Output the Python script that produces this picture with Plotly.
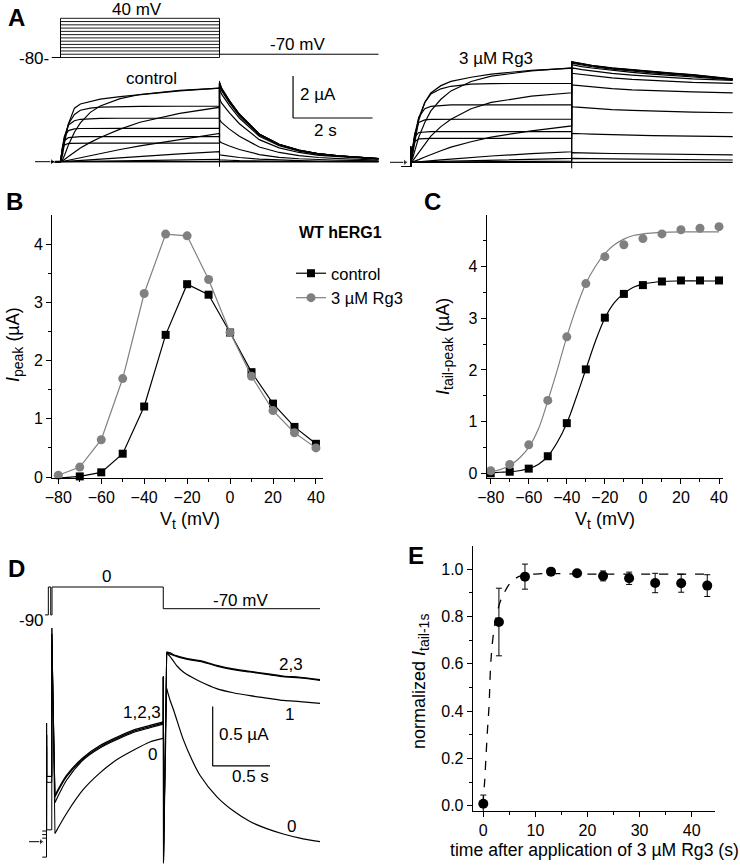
import plotly.graph_objects as go

# ======================= DATA =======================
VOLTAGES = [-80, -70, -60, -50, -40, -30, -20, -10, 0, 10, 20, 30, 40]

# Panel B: peak current (uA)
B_CTRL = [-0.02, 0.01, 0.08, 0.40, 1.21, 2.44, 3.31, 3.13, 2.48, 1.80, 1.26, 0.86, 0.57]
B_RG3 = [0.03, 0.17, 0.64, 1.69, 3.15, 4.17, 4.14, 3.39, 2.48, 1.73, 1.14, 0.76, 0.50]

# Panel C: tail peak current (uA) + fitted curves
C_CTRL = [0.0, 0.03, 0.09, 0.33, 0.97, 2.01, 3.01, 3.47, 3.64, 3.71, 3.73, 3.73, 3.73]
C_RG3 = [0.05, 0.17, 0.55, 1.41, 2.64, 3.67, 4.19, 4.42, 4.54, 4.63, 4.71, 4.74, 4.77]
C_FIT_V = [-80, -75, -70, -65, -60, -55, -50, -45, -40, -35, -30, -25, -20, -15, -10, -5, 0, 10, 20, 30, 40]
C_FIT_CTRL = [0.01, 0.02, 0.03, 0.05, 0.09, 0.17, 0.33, 0.60, 0.97, 1.47, 2.01, 2.55, 3.00, 3.30, 3.48, 3.60, 3.66, 3.71, 3.72, 3.72, 3.72]
C_FIT_RG3 = [0.03, 0.07, 0.15, 0.29, 0.50, 0.85, 1.40, 2.00, 2.64, 3.20, 3.67, 4.00, 4.25, 4.42, 4.53, 4.60, 4.63, 4.66, 4.67, 4.67, 4.67]

# Panel E
E_T = [0, 3, 8, 13, 18, 23, 28, 33, 38, 43]
E_Y = [0.008, 0.777, 0.969, 0.990, 0.983, 0.972, 0.962, 0.942, 0.941, 0.931]
E_ERR = [0.037, 0.143, 0.053, 0.006, 0.005, 0.021, 0.026, 0.041, 0.038, 0.046]
E_FIT_T = [-0.1, 0.25, 0.5, 0.8, 1.1, 1.4, 1.8, 2.4, 3.2, 4.0, 5.1, 6.9, 10, 20, 30, 44]
E_FIT_Y = [0.0, 0.10, 0.20, 0.32, 0.42, 0.59, 0.70, 0.79, 0.86, 0.90, 0.94, 0.97, 0.98, 0.98, 0.98, 0.98]

# Panel A: current traces (s, uA)
A_T_PRE = -0.22
A_T_STEP = [0, 0.05, 0.1, 0.2, 0.35, 0.5, 0.75, 1.0, 1.5, 2.0, 3.0, 4.0]
A_T_TAIL = [4.0, 4.05, 4.25, 4.5, 5.0, 5.5, 6.0, 6.5, 7.0, 8.0]
A_PRE_CTRL, A_ONSET_CTRL = 0.0, 0.0
A_PRE_RG3, A_ONSET_RG3 = -0.2, 0.74
CTRL_STEP = [
    [0, 0, 0, 0, 0, 0, 0, 0, 0, 0, 0, 0],
    [0, 0, 0, 0, 0, 0, 0, 0.01, 0.01, 0.01, 0.02, 0.02],
    [0, 0, 0, 0, 0.01, 0.01, 0.02, 0.03, 0.04, 0.06, 0.09, 0.11],
    [0, 0, 0.01, 0.02, 0.04, 0.06, 0.09, 0.12, 0.18, 0.25, 0.37, 0.48],
    [0, 0.01, 0.03, 0.07, 0.13, 0.2, 0.3, 0.4, 0.58, 0.75, 1.06, 1.35],
    [0, 0.04, 0.1, 0.25, 0.45, 0.65, 0.92, 1.15, 1.55, 1.88, 2.3, 2.59],
    [0, 0.1, 0.3, 0.8, 1.4, 1.85, 2.35, 2.65, 3.0, 3.2, 3.4, 3.5],
    [0, 0.3, 0.9, 1.8, 2.55, 2.75, 2.88, 2.98, 3.1, 3.2, 3.37, 3.5],
    [0, 0.5, 1.1, 1.8, 2.25, 2.45, 2.55, 2.6, 2.62, 2.63, 2.64, 2.65],
    [0, 0.6, 1.2, 1.75, 1.95, 2.02, 2.05, 2.06, 2.07, 2.07, 2.07, 2.07],
    [0, 0.7, 1.2, 1.48, 1.56, 1.58, 1.59, 1.59, 1.59, 1.59, 1.59, 1.59],
    [0, 0.7, 1.0, 1.15, 1.18, 1.19, 1.19, 1.19, 1.19, 1.19, 1.19, 1.19],
    [0, 0.6, 0.8, 0.87, 0.88, 0.88, 0.88, 0.88, 0.88, 0.88, 0.88, 0.88],
]
CTRL_TAIL = [
    [0, 0, 0, 0, 0, 0, 0, 0, 0, 0],
    [0.03, 0.03, 0.02, 0.02, 0.01, 0.01, 0.0, 0.0, 0.0, 0.0],
    [0.09, 0.08, 0.07, 0.05, 0.03, 0.02, 0.01, 0.01, 0.01, 0.0],
    [0.33, 0.31, 0.25, 0.2, 0.12, 0.07, 0.05, 0.03, 0.02, 0.01],
    [0.97, 0.9, 0.75, 0.58, 0.34, 0.21, 0.14, 0.1, 0.07, 0.04],
    [2.01, 1.87, 1.55, 1.21, 0.7, 0.44, 0.29, 0.2, 0.15, 0.08],
    [3.01, 2.8, 2.32, 1.81, 1.05, 0.66, 0.44, 0.3, 0.23, 0.12],
    [3.47, 3.23, 2.67, 2.08, 1.21, 0.76, 0.5, 0.35, 0.26, 0.14],
    [3.64, 3.39, 2.8, 2.18, 1.27, 0.8, 0.53, 0.36, 0.27, 0.15],
    [3.71, 3.45, 2.86, 2.23, 1.3, 0.82, 0.54, 0.37, 0.28, 0.15],
    [3.73, 3.47, 2.87, 2.24, 1.31, 0.82, 0.54, 0.37, 0.28, 0.15],
    [3.76, 3.5, 2.9, 2.26, 1.32, 0.83, 0.55, 0.38, 0.28, 0.15],
    [3.78, 3.52, 2.91, 2.27, 1.32, 0.83, 0.55, 0.38, 0.28, 0.15],
]
RG3_STEP = [
    [0, 0, 0, 0, 0, 0, 0, 0, 0, 0, 0, 0],
    [0, 0, 0, 0, 0, 0.01, 0.01, 0.01, 0.02, 0.03, 0.04, 0.05],
    [0, 0, 0, 0.01, 0.02, 0.03, 0.04, 0.05, 0.08, 0.11, 0.15, 0.19],
    [0, 0, 0.01, 0.03, 0.05, 0.08, 0.12, 0.15, 0.23, 0.3, 0.41, 0.5],
    [0, 0.02, 0.05, 0.13, 0.25, 0.37, 0.55, 0.72, 0.98, 1.2, 1.5, 1.73],
    [0, 0.07, 0.2, 0.5, 0.9, 1.25, 1.7, 2.05, 2.55, 2.85, 3.15, 3.31],
    [0, 0.2, 0.55, 1.2, 1.9, 2.45, 3.0, 3.4, 3.85, 4.1, 4.35, 4.5],
    [0, 0.4, 1.0, 2.0, 2.85, 3.3, 3.65, 3.85, 4.05, 4.2, 4.38, 4.5],
    [0, 0.5, 1.15, 2.1, 2.85, 3.25, 3.5, 3.62, 3.72, 3.75, 3.76, 3.76],
    [0, 0.6, 1.3, 2.15, 2.55, 2.66, 2.71, 2.73, 2.73, 2.73, 2.73, 2.73],
    [0, 0.7, 1.35, 1.9, 2.02, 2.04, 2.05, 2.05, 2.05, 2.05, 2.05, 2.05],
    [0, 0.7, 1.2, 1.42, 1.45, 1.46, 1.46, 1.46, 1.46, 1.46, 1.46, 1.46],
    [0, 0.65, 0.98, 1.12, 1.14, 1.14, 1.14, 1.14, 1.14, 1.14, 1.14, 1.14],
]
RG3_TAIL = [
    [0, 0, 0, 0, 0, 0, 0, 0, 0, 0],
    [0.19, 0.19, 0.18, 0.17, 0.16, 0.15, 0.14, 0.13, 0.12, 0.11],
    [0.46, 0.46, 0.45, 0.44, 0.42, 0.41, 0.39, 0.38, 0.37, 0.35],
    [1.38, 1.38, 1.36, 1.34, 1.31, 1.29, 1.27, 1.26, 1.24, 1.22],
    [2.65, 2.64, 2.61, 2.57, 2.51, 2.47, 2.44, 2.41, 2.39, 2.36],
    [3.68, 3.67, 3.63, 3.58, 3.51, 3.45, 3.41, 3.38, 3.35, 3.31],
    [4.24, 4.23, 4.17, 4.11, 4.02, 3.95, 3.9, 3.85, 3.81, 3.76],
    [4.5, 4.48, 4.41, 4.34, 4.23, 4.15, 4.08, 4.02, 3.97, 3.9],
    [4.65, 4.63, 4.56, 4.49, 4.37, 4.28, 4.2, 4.14, 4.08, 3.93],
    [4.72, 4.7, 4.63, 4.55, 4.44, 4.34, 4.26, 4.19, 4.12, 3.94],
    [4.76, 4.74, 4.66, 4.59, 4.47, 4.38, 4.29, 4.22, 4.15, 3.95],
    [4.78, 4.76, 4.68, 4.61, 4.49, 4.4, 4.31, 4.24, 4.17, 3.96],
    [4.79, 4.77, 4.69, 4.62, 4.5, 4.41, 4.32, 4.25, 4.18, 3.97],
]
CTRL_END_SPIKE = [-0.24, 3.85]
RG3_END_SPIKE = [-0.29, 4.79]
A_HOLD_MV, A_TAIL_MV = -80, -70
A_SCALE_DT, A_SCALE_DI = 2, 2

# Panel D: traces 0..3 (s, uA)
D_T_PRE = [-0.085, -0.048, -0.047, -0.046, -0.002, -0.001]
D0_PRE = [0.03, 0.03, 1.0, 0.1, 0.1, 1.8]
D1_PRE = [0.06, 0.06, 0.9, 0.5, 0.5, 1.75]
D2_PRE = [0.09, 0.09, 0.9, 0.55, 0.55, 1.7]
D3_PRE = [-0.13, -0.13, 0.8, 0.55, 0.55, 1.65]
D_T_STEP = [0.026, 0.128, 0.273, 0.418, 0.564, 0.709, 0.854, 0.97]
D0_STEP = [0.07, 0.24, 0.44, 0.58, 0.69, 0.77, 0.84, 0.87]
D1_STEP = [0.33, 0.52, 0.69, 0.79, 0.86, 0.92, 0.96, 0.99]
D2_STEP = [0.38, 0.55, 0.70, 0.80, 0.87, 0.93, 0.97, 1.0]
D3_STEP = [0.39, 0.56, 0.71, 0.81, 0.88, 0.94, 0.98, 1.01]
D_T_END = [0.971, 0.972]
D_END_SPIKE = [1.39, -0.18]
D_T_TAIL = [1.0, 1.03, 1.06, 1.09, 1.145, 1.22, 1.29, 1.436, 1.58, 1.726, 1.872, 2.017, 2.162, 2.337]
D0_TAIL = [1.29, 1.19, 1.11, 1.02, 0.86, 0.69, 0.56, 0.38, 0.26, 0.17, 0.11, 0.065, 0.03, 0.0]
D1_TAIL = [1.59, 1.56, 1.52, 1.48, 1.43, 1.385, 1.35, 1.29, 1.255, 1.23, 1.21, 1.19, 1.18, 1.166]
D2_TAIL = [1.59, 1.58, 1.57, 1.56, 1.545, 1.53, 1.52, 1.48, 1.45, 1.43, 1.41, 1.39, 1.38, 1.36]
D3_TAIL = [1.60, 1.59, 1.575, 1.565, 1.55, 1.535, 1.525, 1.485, 1.455, 1.435, 1.415, 1.395, 1.385, 1.365]
D_PROTO_T = [-0.06, -0.032, -0.032, -0.011, -0.011, 0.0, 0.0, 0.97, 0.97, 2.337]
D_PROTO_V = [-90, -90, 0, 0, -90, -90, 0, 0, -70, -70]
D_SCALE_DT, D_SCALE_DI = 0.5, 0.5

# ======================= LAYOUT HELPERS =======================
W, H = 740, 866
FONT = "Liberation Sans, Arial, sans-serif"
GRAY = "#808080"
TXT = 17


def xcfg(p0, p1, v0, q0, s):
    return dict(domain=[p0 / W, p1 / W], range=[v0 + (p0 - q0) / s, v0 + (p1 - q0) / s])


def ycfg(ptop, pbot, v0, q0, s):
    return dict(domain=[1 - pbot / H, 1 - ptop / H], range=[v0 - (pbot - q0) / s, v0 + (q0 - ptop) / s])


def P(x, y):
    return x / W, 1 - y / H


def sub(s, size=14):
    return f"<sub><span style='font-size:{size}px'>{s}</span></sub>"


AXSTYLE = dict(showline=True, linecolor="black", linewidth=1, ticks="outside", ticklen=5,
               tickwidth=1, tickcolor="black", showgrid=False, zeroline=False, mirror=False,
               tickfont=dict(size=16, color="black", family=FONT))

fig = go.Figure()

# ---------- Panel A ----------
LW = 1.2
for i, v in enumerate(VOLTAGES):
    fig.add_trace(go.Scatter(x=[A_T_PRE, 0.0, 0.0] + A_T_STEP + A_T_TAIL,
                             y=[A_PRE_CTRL, A_PRE_CTRL, A_ONSET_CTRL] + CTRL_STEP[i] + CTRL_TAIL[i],
                             mode="lines", line=dict(color="black", width=LW),
                             xaxis="x", yaxis="y", showlegend=False, hoverinfo="skip"))
    fig.add_trace(go.Scatter(x=[A_T_PRE, 0.0, 0.0] + A_T_STEP + A_T_TAIL,
                             y=[A_PRE_RG3, A_PRE_RG3, A_ONSET_RG3] + RG3_STEP[i] + RG3_TAIL[i],
                             mode="lines", line=dict(color="black", width=LW),
                             xaxis="x2", yaxis="y2", showlegend=False, hoverinfo="skip"))
    fig.add_trace(go.Scatter(x=[0.0, 0.0, A_T_STEP[-1], A_T_STEP[-1]],
                             y=[A_HOLD_MV, v, v, A_TAIL_MV],
                             mode="lines", line=dict(color="black", width=0.9),
                             xaxis="x3", yaxis="y3", showlegend=False, hoverinfo="skip"))
fig.add_trace(go.Scatter(x=[A_T_PRE, 0.0], y=[A_HOLD_MV, A_HOLD_MV], mode="lines",
                         line=dict(color="black", width=1), xaxis="x3", yaxis="y3",
                         showlegend=False, hoverinfo="skip"))
fig.add_trace(go.Scatter(x=[A_T_STEP[-1], A_T_TAIL[-1]], y=[A_TAIL_MV, A_TAIL_MV], mode="lines",
                         line=dict(color="black", width=1), xaxis="x3", yaxis="y3",
                         showlegend=False, hoverinfo="skip"))
fig.add_trace(go.Scatter(x=[A_T_STEP[-1]] * 2, y=CTRL_END_SPIKE, mode="lines",
                         line=dict(color="black", width=1), xaxis="x", yaxis="y",
                         showlegend=False, hoverinfo="skip"))
fig.add_trace(go.Scatter(x=[A_T_STEP[-1]] * 2, y=RG3_END_SPIKE, mode="lines",
                         line=dict(color="black", width=1), xaxis="x2", yaxis="y2",
                         showlegend=False, hoverinfo="skip"))

# ---------- Panel B ----------
fig.add_trace(go.Scatter(x=VOLTAGES, y=B_CTRL, mode="lines+markers", name="control",
                         line=dict(color="black", width=1.2),
                         marker=dict(symbol="square", size=8, color="black"),
                         xaxis="x4", yaxis="y4", cliponaxis=False, legendgroup="a"))
fig.add_trace(go.Scatter(x=VOLTAGES, y=B_RG3, mode="lines+markers", name="3 \u00b5M Rg3",
                         line=dict(color=GRAY, width=1.2),
                         marker=dict(symbol="circle", size=9, color=GRAY),
                         xaxis="x4", yaxis="y4", cliponaxis=False, legendgroup="b"))

# ---------- Panel C ----------
fig.add_trace(go.Scatter(x=C_FIT_V, y=C_FIT_CTRL, mode="lines", line=dict(color="black", width=1.2, shape="spline"),
                         xaxis="x5", yaxis="y5", showlegend=False, hoverinfo="skip"))
fig.add_trace(go.Scatter(x=C_FIT_V, y=C_FIT_RG3, mode="lines", line=dict(color=GRAY, width=1.2, shape="spline"),
                         xaxis="x5", yaxis="y5", showlegend=False, hoverinfo="skip"))
fig.add_trace(go.Scatter(x=VOLTAGES, y=C_CTRL, mode="markers", marker=dict(symbol="square", size=8, color="black"),
                         xaxis="x5", yaxis="y5", showlegend=False, cliponaxis=False))
fig.add_trace(go.Scatter(x=VOLTAGES, y=C_RG3, mode="markers", marker=dict(symbol="circle", size=9, color=GRAY),
                         xaxis="x5", yaxis="y5", showlegend=False, cliponaxis=False))

# ---------- Panel D ----------
fig.add_trace(go.Scatter(x=D_PROTO_T, y=D_PROTO_V, mode="lines", line=dict(color="black", width=1),
                         xaxis="x6", yaxis="y6", showlegend=False, hoverinfo="skip"))
for pre, step, tail, lw in [(D0_PRE, D0_STEP, D0_TAIL, 1.2), (D1_PRE, D1_STEP, D1_TAIL, 1.2),
                            (D2_PRE, D2_STEP, D2_TAIL, 1.3), (D3_PRE, D3_STEP, D3_TAIL, 1.3)]:
    fig.add_trace(go.Scatter(x=D_T_PRE + D_T_STEP[:1], y=pre + step[:1], mode="lines",
                             line=dict(color="black", width=1), xaxis="x7", yaxis="y7",
                             showlegend=False, hoverinfo="skip"))
    fig.add_trace(go.Scatter(x=D_T_STEP, y=step, mode="lines",
                             line=dict(color="black", width=lw, shape="spline", smoothing=0.8),
                             xaxis="x7", yaxis="y7", showlegend=False, hoverinfo="skip"))
    fig.add_trace(go.Scatter(x=D_T_STEP[-1:] + D_T_END + D_T_TAIL[:1], y=step[-1:] + D_END_SPIKE + tail[:1],
                             mode="lines", line=dict(color="black", width=1), xaxis="x7", yaxis="y7",
                             showlegend=False, hoverinfo="skip"))
    fig.add_trace(go.Scatter(x=D_T_TAIL, y=tail, mode="lines",
                             line=dict(color="black", width=lw, shape="spline", smoothing=0.8),
                             xaxis="x7", yaxis="y7", showlegend=False, hoverinfo="skip"))

# ---------- zero-current arrows (A control, A Rg3, D) ----------
for xr, yr, xt, xh in [("x", "y", -0.64, -0.214), ("x2", "y2", -0.514, -0.14), ("x7", "y7", -0.2, -0.096)]:
    fig.add_trace(go.Scatter(x=[xt, xh], y=[0, 0], mode="lines+markers",
                             line=dict(color="black", width=1),
                             marker=dict(symbol="triangle-right", size=[0, 6], color="black"),
                             xaxis=xr, yaxis=yr, showlegend=False, hoverinfo="skip", cliponaxis=False))

# ---------- Panel E ----------
fig.add_trace(go.Scatter(x=E_FIT_T, y=E_FIT_Y, mode="lines",
                         line=dict(color="black", width=1.3, dash="dash", shape="spline"),
                         xaxis="x8", yaxis="y8", showlegend=False, hoverinfo="skip"))
fig.add_trace(go.Scatter(x=E_T, y=E_Y, mode="markers",
                         marker=dict(symbol="circle", size=10, color="black"),
                         error_y=dict(type="data", array=E_ERR, visible=True, color="black", thickness=1, width=3),
                         xaxis="x8", yaxis="y8", showlegend=False, cliponaxis=False))

# ======================= AXES =======================
hidden = dict(visible=True, showline=False, showticklabels=False, ticks="", showgrid=False, zeroline=False)
layout_axes = {
    "xaxis": dict(**hidden, **xcfg(20, 392, 0, 60.5, 39.75), anchor="y"),
    "yaxis": dict(**hidden, **ycfg(62, 178, 0, 161.7, 21), anchor="x"),
    "xaxis2": dict(**hidden, **xcfg(385, 740, 0, 410.7, 40.25), anchor="y2"),
    "yaxis2": dict(**hidden, **ycfg(50, 178, 0, 162.3, 21), anchor="x2"),
    "xaxis3": dict(**hidden, **xcfg(20, 392, 0, 60.5, 39.75), anchor="y3"),
    "yaxis3": dict(**hidden, **ycfg(10, 66, -80, 57.5, 0.3267), anchor="x3"),
    "xaxis4": dict(**AXSTYLE, **xcfg(52, 323, -80, 58.3, 2.147), anchor="y4",
                   tickmode="array", tickvals=[-80, -60, -40, -20, 0, 20, 40],
                   minor=dict(ticks="outside", ticklen=3, tickcolor="black", dtick=10, tick0=0, showgrid=False)),
    "yaxis4": dict(**AXSTYLE, **ycfg(215, 478, 0, 477, 58.25), anchor="x4", dtick=1, tick0=0,
                   minor=dict(ticks="outside", ticklen=3, tickcolor="black", dtick=0.5, tick0=0, showgrid=False)),
    "xaxis5": dict(**AXSTYLE, **xcfg(486.7, 722.7, -80, 490.7, 1.9025), anchor="y5",
                   tickmode="array", tickvals=[-80, -60, -40, -20, 0, 20, 40],
                   minor=dict(ticks="outside", ticklen=3, tickcolor="black", dtick=10, tick0=0, showgrid=False)),
    "yaxis5": dict(**AXSTYLE, **ycfg(215, 478, 0, 473.3, 51.7), anchor="x5", dtick=1, tick0=0,
                   minor=dict(ticks="outside", ticklen=3, tickcolor="black", dtick=0.5, tick0=0, showgrid=False)),
    "xaxis6": dict(**hidden, **xcfg(25, 335, 0, 52, 114.7), anchor="y6"),
    "yaxis6": dict(**hidden, **ycfg(570, 626, 0, 587, 0.31), anchor="x6"),
    "xaxis7": dict(**hidden, **xcfg(20, 335, 0, 52, 114.7), anchor="y7"),
    "yaxis7": dict(**hidden, **ycfg(612, 866, 0, 841.7, 118.7), anchor="x7"),
    "xaxis8": dict(**AXSTYLE, **xcfg(472.7, 715, 0, 483.3, 5.208), anchor="y8", dtick=10, tick0=0,
                   minor=dict(ticks="outside", ticklen=3, tickcolor="black", dtick=5, tick0=0, showgrid=False)),
    "yaxis8": dict(**AXSTYLE, **ycfg(546, 811, 0, 805.7, 236.4), anchor="x8", dtick=0.2, tick0=0,
                   tickformat=".1f",
                   minor=dict(ticks="outside", ticklen=3, tickcolor="black", dtick=0.1, tick0=0, showgrid=False)),
}

# ======================= SHAPES (scale bars) =======================
a_t0, a_i0 = 5.85, 2.08
d_t0, d_i0 = 1.401, 0.638
shapes = [
    dict(type="line", xref="x", yref="y", x0=a_t0, x1=a_t0, y0=a_i0, y1=a_i0 + A_SCALE_DI, line=dict(color="black", width=1.2)),
    dict(type="line", xref="x", yref="y", x0=a_t0, x1=a_t0 + A_SCALE_DT, y0=a_i0, y1=a_i0, line=dict(color="black", width=1.2)),
    dict(type="line", xref="x7", yref="y7", x0=d_t0, x1=d_t0, y0=d_i0, y1=d_i0 + D_SCALE_DI, line=dict(color="black", width=1.2)),
    dict(type="line", xref="x7", yref="y7", x0=d_t0, x1=d_t0 + D_SCALE_DT, y0=d_i0, y1=d_i0, line=dict(color="black", width=1.2)),
]

# ======================= ANNOTATIONS =======================
ann = []


def text(x, y, s, size=TXT, xanchor="center", bold=False, angle=0):
    px_, py_ = P(x, y)
    ann.append(dict(x=px_, y=py_, xref="paper", yref="paper", text=(f"<b>{s}</b>" if bold else s),
                    showarrow=False, xanchor=xanchor, yanchor="middle", textangle=angle,
                    font=dict(size=size, color="black", family=FONT)))


text(16, 17, "A", 24, bold=True)
text(14, 201, "B", 24, bold=True)
text(432, 201, "C", 24, bold=True)
text(16, 568, "D", 24, bold=True)
text(416, 555, "E", 24, bold=True)

text(137, 9, "40 mV")
text(297, 45, "-70 mV")
text(51, 58, "-80-", xanchor="right")
text(151, 79, "control")
text(298, 95, "2 \u00b5A", xanchor="left")
text(325, 130, "2 s")
text(496, 58, "3 \u00b5M Rg3")

text(297, 233, "WT hERG1", 16, xanchor="left", bold=True)
text(14, 345, "<i>I</i>" + sub("peak") + " (\u00b5A)", 18, angle=-90)
text(190, 520, "V" + sub("t") + " (mV)", 18)
text(445, 347, "<i>I</i>" + sub("tail-peak") + " (\u00b5A)", 18, angle=-90)
text(605, 520, "V" + sub("t") + " (mV)", 18)

text(106, 576, "0")
text(240, 600, "-70 mV")
text(31, 620, "-90")
text(291, 664, "2,3")
text(289, 714, "1")
text(142, 712, "1,2,3")
text(152, 754, "0")
text(291, 826, "0")
text(217, 734, "0.5 \u00b5A", xanchor="left")
text(250, 776, "0.5 s")

text(420, 682, "normalized <i>I</i>" + sub("tail-1s"), 18, angle=-90)
text(594, 850, "time after application of 3 \u00b5M Rg3 (s)", 17.6)

fig.update_layout(
    width=W, height=H, margin=dict(l=0, r=0, t=0, b=0, autoexpand=False),
    paper_bgcolor="white", plot_bgcolor="rgba(0,0,0,0)",
    font=dict(family=FONT, color="black", size=16),
    shapes=shapes, annotations=ann,
    legend=dict(x=291 / W, y=1 - 256 / H, xanchor="left", yanchor="top",
                font=dict(size=16.5, family=FONT, color="black"), bgcolor="rgba(0,0,0,0)",
                itemwidth=30, tracegroupgap=0, borderwidth=0),
    **layout_axes,
)

fig.write_html("out.html", config={"displayModeBar": False},
               post_script="document.body.style.margin='0';document.body.style.overflow='hidden';")
